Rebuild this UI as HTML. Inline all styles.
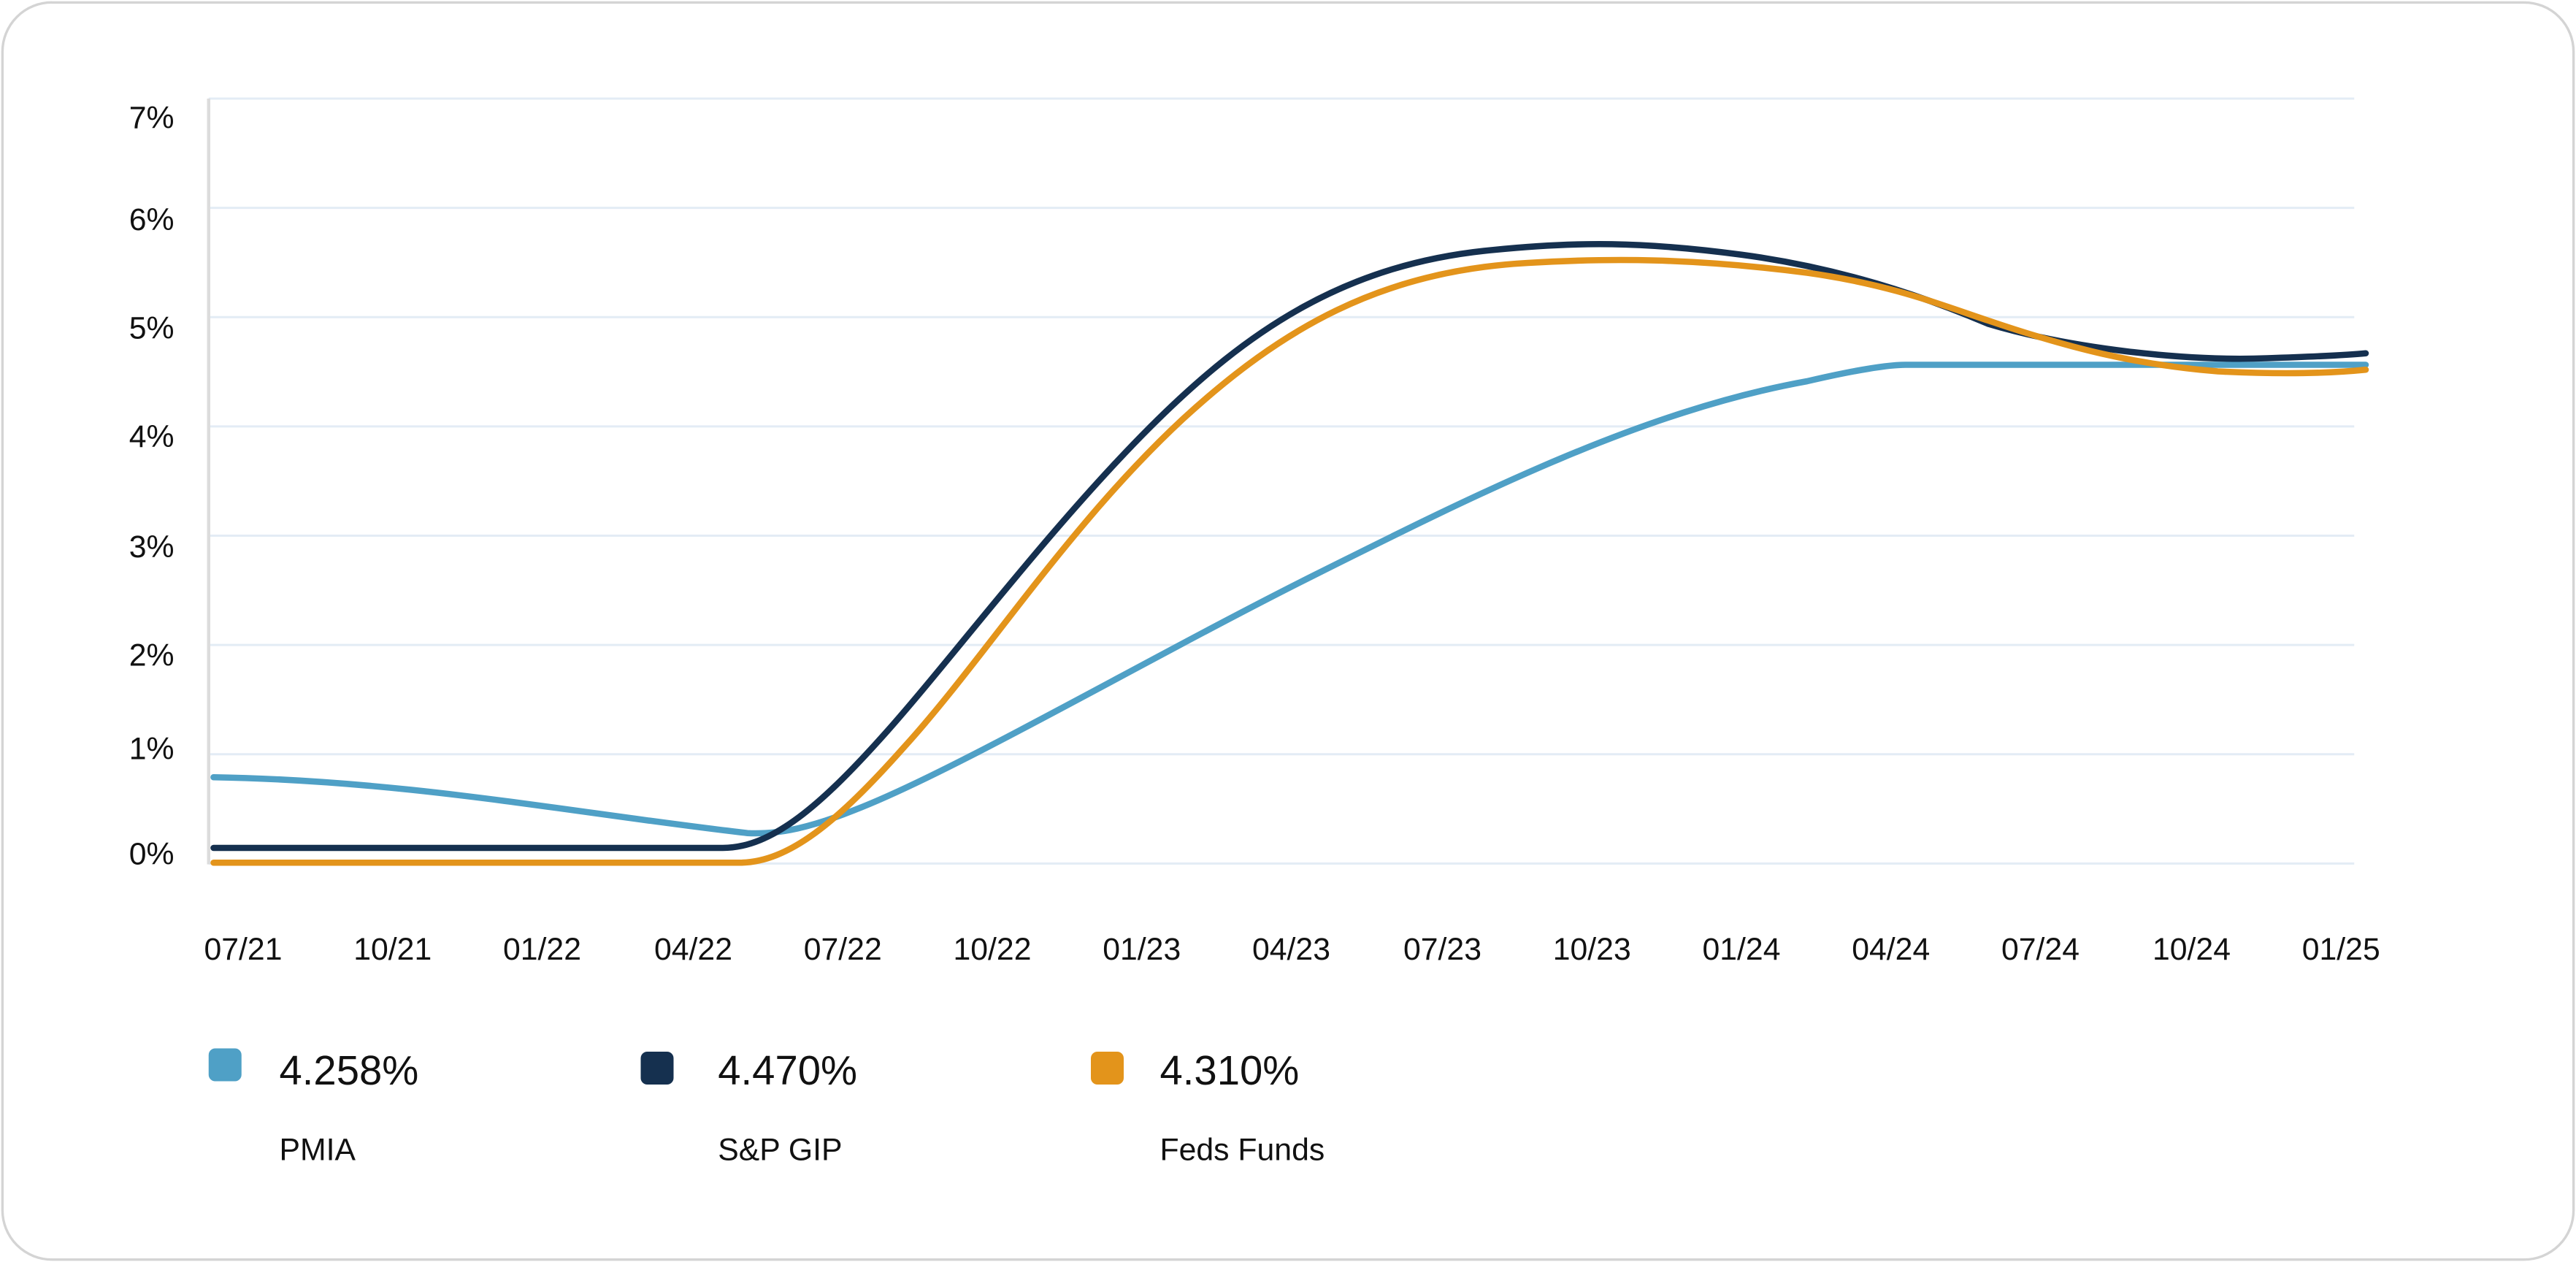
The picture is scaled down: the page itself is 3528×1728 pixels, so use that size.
<!DOCTYPE html>
<html><head><meta charset="utf-8"><style>html,body{margin:0;padding:0;background:#fff}svg{display:block}</style></head>
<body>
<svg width="3528" height="1728" viewBox="0 0 1568 768" xmlns="http://www.w3.org/2000/svg" font-family="Liberation Sans, sans-serif">
<rect x="1.5" y="1.5" width="1565" height="765" rx="30" fill="#fff" stroke="#d4d4d4" stroke-width="1.5"/>
<g stroke="#e3ecf5" stroke-width="1.3">
<line x1="127" y1="60" x2="1433" y2="60"/>
<line x1="127" y1="126.5" x2="1433" y2="126.5"/>
<line x1="127" y1="193" x2="1433" y2="193"/>
<line x1="127" y1="259.5" x2="1433" y2="259.5"/>
<line x1="127" y1="326" x2="1433" y2="326"/>
<line x1="127" y1="392.5" x2="1433" y2="392.5"/>
<line x1="127" y1="459" x2="1433" y2="459"/>
<line x1="127" y1="525.5" x2="1433" y2="525.5"/>
</g>
<line x1="127" y1="60" x2="127" y2="526" stroke="#dcdcdc" stroke-width="2"/>
<g font-size="19" fill="#111" text-anchor="end">
<text x="106" y="78">7%</text>
<text x="106" y="140">6%</text>
<text x="106" y="206">5%</text>
<text x="106" y="272">4%</text>
<text x="106" y="339">3%</text>
<text x="106" y="405">2%</text>
<text x="106" y="462">1%</text>
<text x="106" y="526">0%</text>
</g>
<g font-size="19" fill="#111" text-anchor="middle">
<text x="148" y="584">07/21</text>
<text x="239" y="584">10/21</text>
<text x="330" y="584">01/22</text>
<text x="422" y="584">04/22</text>
<text x="513" y="584">07/22</text>
<text x="604" y="584">10/22</text>
<text x="695" y="584">01/23</text>
<text x="786" y="584">04/23</text>
<text x="878" y="584">07/23</text>
<text x="969" y="584">10/23</text>
<text x="1060" y="584">01/24</text>
<text x="1151" y="584">04/24</text>
<text x="1242" y="584">07/24</text>
<text x="1334" y="584">10/24</text>
<text x="1425" y="584">01/25</text>
</g>
<g fill="none" stroke-width="3.8" stroke-linecap="round" stroke-linejoin="round">
<path stroke="#4fa0c6" d="M130,473 C250,475 350,495 455,507 C475,508 495,503 520,493 C580,470 700,400 800,350 C900,300 1000,250 1100,232 C1130,225 1150,222 1160,222 L1440,222"/>
<path stroke="#15304f" d="M130,516 L440,516 C470,516 500,490 540,445 C580,400 640,320 700,260 C760,200 820,160 910,152 C960,147 1000,147 1060,155 C1120,163 1170,180 1210,197 C1260,212 1330,220 1380,218 C1410,217 1430,216 1440,215"/>
<path stroke="#e3941b" d="M130,525 L450,525 C480,525 510,500 550,455 C600,400 650,320 720,255 C780,200 840,165 930,160 C980,157 1030,157 1100,166 C1150,173 1180,185 1210,195 C1260,212 1300,222 1350,226 C1390,228 1420,227 1440,225"/>
</g>
<rect x="127" y="638" width="20" height="20" rx="4" fill="#4fa0c6"/>
<rect x="390" y="640" width="20" height="20" rx="4" fill="#15304f"/>
<rect x="664" y="640" width="20" height="20" rx="4" fill="#e3941b"/>
<g font-size="25" fill="#111" font-weight="500">
<text x="170" y="660">4.258%</text>
<text x="437" y="660">4.470%</text>
<text x="706" y="660">4.310%</text>
</g>
<g font-size="19" fill="#111">
<text x="170" y="706">PMIA</text>
<text x="437" y="706">S&amp;P GIP</text>
<text x="706" y="706">Feds Funds</text>
</g>
</svg>
</body></html>
